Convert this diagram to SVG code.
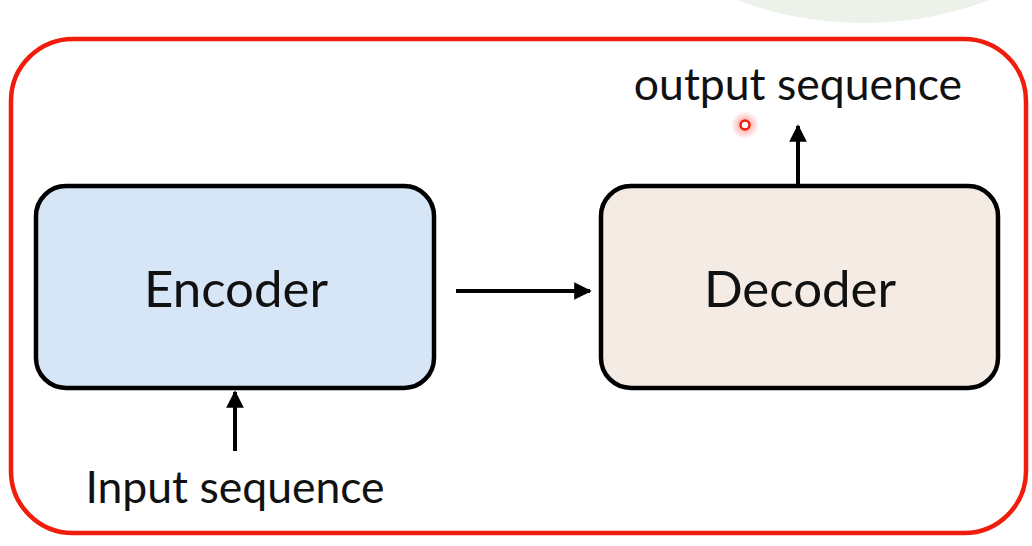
<svg xmlns="http://www.w3.org/2000/svg" width="1032" height="546" viewBox="0 0 1032 546">
<defs>
<marker id="ah" viewBox="0 0 10 10" refX="9" refY="5" markerWidth="4.4" markerHeight="4.4" orient="auto" markerUnits="strokeWidth">
<path d="M0,0 L10,5 L0,10 z" fill="#000"/>
</marker>
<radialGradient id="glow">
<stop offset="0" stop-color="#ff3030" stop-opacity="0.55"/>
<stop offset="1" stop-color="#ff3030" stop-opacity="0"/>
</radialGradient>
<style>
.box{stroke:#000;stroke-width:4.5}
.lbl{font-family:Lato,"Open Sans",sans-serif;fill:#111;text-anchor:middle}
.conn{stroke:#000;stroke-width:4;fill:none;marker-end:url(#ah)}
</style>
</defs>
<rect width="1032" height="546" fill="#fff"/>
<circle cx="863" cy="-334" r="357" fill="#ecf2ea"/>
<rect id="frame" x="11" y="39" width="1015" height="494" rx="62" fill="none" stroke="#f01c0c" stroke-width="4.5"/>
<g id="encoder">
<rect class="box" x="36" y="186" width="398" height="202" rx="30" fill="#d6e6f6"/>
<text class="lbl" x="236" y="307" font-size="51">Encoder</text>
</g>
<g id="decoder">
<rect class="box" x="601" y="186" width="397" height="202" rx="30" fill="#f4ece4"/>
<text class="lbl" x="800" y="307" font-size="51">Decoder</text>
</g>
<g id="input">
<text class="lbl" x="235" y="503" font-size="44.5">Input sequence</text>
</g>
<g id="output">
<text class="lbl" x="798" y="100" font-size="44.5">output sequence</text>
</g>
<g id="connectors">
<line class="conn" x1="456" y1="291" x2="590" y2="291"/>
<line class="conn" x1="235" y1="451" x2="235" y2="392"/>
<line class="conn" x1="798" y1="185" x2="798" y2="126"/>
</g>
<g id="pointer">
<circle cx="745" cy="125" r="14" fill="url(#glow)"/>
<circle cx="745" cy="125" r="4.5" fill="#fff" stroke="#f01c0c" stroke-width="2.5"/>
</g>
</svg>
